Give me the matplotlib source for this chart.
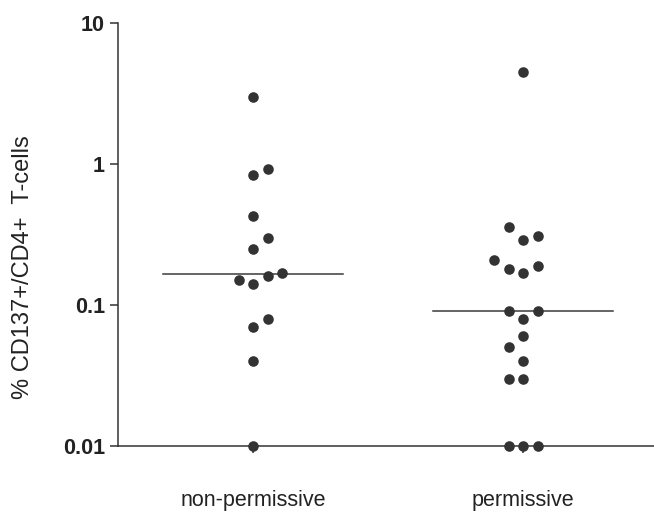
# Grafico de dispersion (escala log) del porcentaje de celulas CD137+/CD4+
# en dos grupos, con la mediana de cada grupo como linea horizontal.

import numpy as np
import matplotlib.pyplot as plt

# Datos
grupos = ['non-permissive', 'permissive']
no_permisivo = [3.0, 0.84, 0.92, 0.43, 0.25, 0.30, 0.14, 0.16, 0.15, 0.17,
                0.07, 0.08, 0.04, 0.01]
permisivo = [4.5, 0.29, 0.36, 0.31, 0.17, 0.18, 0.19, 0.21, 0.08, 0.09, 0.09,
             0.06, 0.05, 0.04, 0.03, 0.03, 0.01, 0.01, 0.01]
marcas_y = [0.01, 0.1, 1, 10]
etiquetas_y = ['0.01', '0.1', '1', '10']

color_punto = '#333333'
color_texto = '#222222'

plt.rcParams['font.family'] = ['Liberation Sans', 'DejaVu Sans']

fig = plt.figure(figsize=(6.54, 5.15), dpi=100)
ax = fig.add_axes([118 / 654, 1 - 446 / 515, 1 - 118 / 654, 423 / 515])
ax.set_yscale('log')
ax.set_ylim(0.01, 10)
ax.set_xlim(-0.5, 1.485)


def enjambre(valores, centro, orden):
    # coloca cada punto en la primera columna libre (en pixeles)
    paso = 14.5
    umbral = 13.5
    colocados = []
    xs = []
    for v in valores:
        py = ax.transData.transform((centro, v))[1]
        for k in orden:
            px = k * paso
            if all(np.hypot(px - qx, py - qy) >= umbral for qx, qy in colocados):
                break
        colocados.append((px, py))
        x0 = ax.transData.transform((centro, v))[0]
        xs.append(ax.transData.inverted().transform((x0 + px, py))[0])
    return xs


series = [no_permisivo, permisivo]
ordenes = [[0, 1, -1, 2, -2, 3, -3], [0, -1, 1, -2, 2, -3, 3]]
for i, (vals, orden) in enumerate(zip(series, ordenes)):
    xs = enjambre(vals, i, orden)
    ax.scatter(xs, vals, s=58, color=color_punto, zorder=3, clip_on=False,
               linewidths=0)
    med = np.median(vals)
    ax.plot([i - 0.333, i + 0.333], [med, med], color='#3a3a3a', lw=1.1,
            zorder=2)

# ejes
for lado in ['top', 'right']:
    ax.spines[lado].set_visible(False)
for lado in ['left', 'bottom']:
    ax.spines[lado].set_color('#333333')
    ax.spines[lado].set_linewidth(1.1)

ax.set_yticks(marcas_y)
ax.set_yticklabels(etiquetas_y, fontsize=15.5, fontweight='bold', color=color_texto)
ax.yaxis.set_minor_locator(plt.NullLocator())
ax.tick_params(axis='y', length=5.5, width=1.1, color='#333333', pad=4)

ax.set_xticks(range(len(grupos)))
ax.set_xticklabels(grupos, fontsize=15.5, color=color_texto)
ax.tick_params(axis='x', length=5, width=1.1, color='#333333', pad=27)

ax.set_ylabel('% CD137+/CD4+  T-cells', fontsize=17, color=color_texto)
ax.yaxis.set_label_coords(-0.157, 0.423)

plt.savefig('out.png', dpi=100)
